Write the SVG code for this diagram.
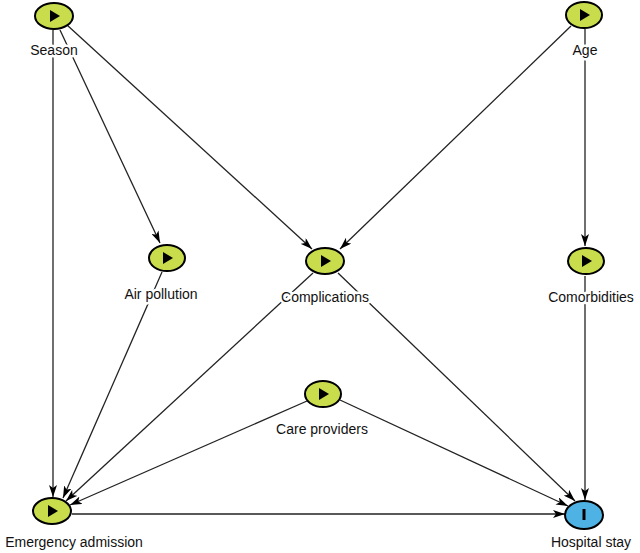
<svg xmlns="http://www.w3.org/2000/svg" width="640" height="553" viewBox="0 0 640 553">
<defs>
<marker id="ah" viewBox="0 0 12 8" refX="12" refY="4" markerWidth="12" markerHeight="8" markerUnits="userSpaceOnUse" orient="auto">
<path d="M0,0 L12,4 L0,8 L3,4 Z" fill="#000"/>
</marker>
</defs>
<style>
.e{stroke:#222;stroke-width:1.3;fill:none;marker-end:url(#ah)}
.n{fill:#c9dc4c;stroke:#000;stroke-width:2}
.h{fill:#4eb2e4;stroke:#000;stroke-width:2}
.t{font-family:"Liberation Sans",Arial,sans-serif;font-size:14px;fill:#111;text-anchor:middle;stroke:#fff;stroke-width:5;paint-order:stroke;stroke-linejoin:round}
.p{fill:#000}
</style>
<rect width="640" height="553" fill="#fff"/>
<g id="connectors">
<line class="e" x1="53" y1="30" x2="53" y2="497"/>
<line class="e" x1="60" y1="30" x2="160" y2="243"/>
<line class="e" x1="67" y1="25" x2="312" y2="249"/>
<line class="e" x1="571" y1="26" x2="340" y2="249"/>
<line class="e" x1="585" y1="29" x2="585" y2="246"/>
<line class="e" x1="585" y1="276" x2="585" y2="500"/>
<line class="e" x1="162" y1="272" x2="63" y2="498"/>
<line class="e" x1="313" y1="273" x2="66" y2="501"/>
<line class="e" x1="338" y1="273" x2="575" y2="501"/>
<line class="e" x1="307" y1="401" x2="70" y2="505"/>
<line class="e" x1="340" y1="400" x2="568" y2="506"/>
<line class="e" x1="72" y1="514" x2="565" y2="514"/>
</g>
<g id="season"><ellipse class="n" cx="54" cy="16" rx="19" ry="13"/><path class="p" d="M50,10 L60,16 L50,22 Z"/><text class="t" x="54" y="55">Season</text></g>
<g id="age"><ellipse class="n" cx="584" cy="15" rx="18" ry="13"/><path class="p" d="M580,9 L590,15 L580,21 Z"/><text class="t" x="585" y="55">Age</text></g>
<g id="air-pollution"><ellipse class="n" cx="167" cy="258" rx="18" ry="13"/><path class="p" d="M163,252 L173,258 L163,264 Z"/><text class="t" x="161" y="299">Air pollution</text></g>
<g id="complications"><ellipse class="n" cx="325" cy="261" rx="19" ry="13"/><path class="p" d="M321,255 L331,261 L321,267 Z"/><text class="t" x="325" y="302">Complications</text></g>
<g id="comorbidities"><ellipse class="n" cx="586" cy="261" rx="18" ry="13"/><path class="p" d="M582,255 L592,261 L582,267 Z"/><text class="t" x="591" y="302">Comorbidities</text></g>
<g id="care-providers"><ellipse class="n" cx="323" cy="394" rx="18" ry="13"/><path class="p" d="M319,388 L329,394 L319,400 Z"/><text class="t" x="322" y="434">Care providers</text></g>
<g id="emergency-admission"><ellipse class="n" cx="52" cy="511" rx="19" ry="13"/><path class="p" d="M48,505 L58,511 L48,517 Z"/><text class="t" x="74" y="547">Emergency admission</text></g>
<g id="hospital-stay"><ellipse class="h" cx="584" cy="515" rx="19" ry="14"/><rect class="p" x="582.5" y="509" width="3" height="11"/><text class="t" x="591" y="547">Hospital stay</text></g>
</svg>
